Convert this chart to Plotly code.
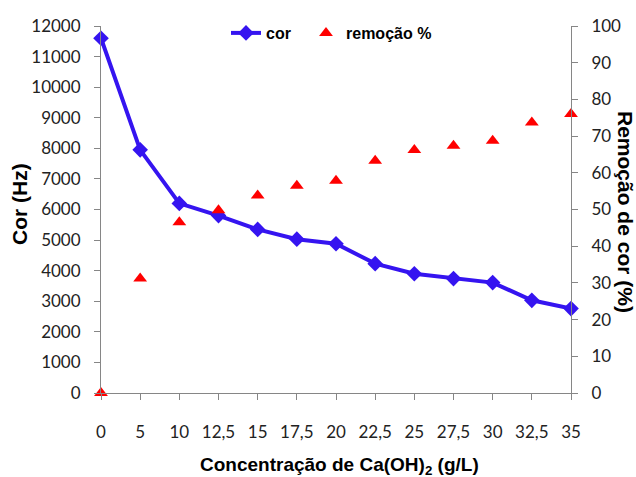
import plotly.graph_objects as go

concentracao = ["0", "5", "10", "12,5", "15", "17,5", "20", "22,5", "25", "27,5", "30", "32,5", "35"]
cor = [11600, 7950, 6200, 5800, 5350, 5030, 4880, 4230, 3900, 3740, 3610, 3030, 2760]
remocao = [0, 31.2, 46.5, 49.8, 53.8, 56.5, 57.8, 63.3, 66.2, 67.4, 68.7, 73.7, 76.0]

W, H = 636, 477
L, R, T, B = 101, 65, 26, 84
pw, ph = W - L - R, H - T - B

def px(x):
    return (x - L) / pw

def py(y):
    return (H - B - y) / ph

axis_gray = "#868686"
tick_font = dict(family="Lato, Open Sans, sans-serif", size=17, color="#222222")
legend_font = dict(family="Liberation Sans, Arial, sans-serif", size=16, color="black", weight="bold")

fig = go.Figure()
fig.add_trace(go.Scatter(
    x=concentracao, y=cor, name="cor", mode="lines+markers",
    line=dict(color="#3514F0", width=4),
    marker=dict(symbol="diamond", size=12, color="#3514F0"),
    cliponaxis=False, legend="legend",
))
fig.add_trace(go.Scatter(
    x=concentracao, y=remocao, name="remoção %", mode="markers", yaxis="y2",
    marker=dict(symbol="triangle-up", size=12, color="#FF0000"),
    cliponaxis=False, legend="legend2",
))

fig.update_layout(
    width=W, height=H,
    margin=dict(l=L, r=R, t=T, b=B),
    paper_bgcolor="white", plot_bgcolor="white",
    showlegend=True,
    legend=dict(
        orientation="h", x=px(226), y=py(33), xanchor="left", yanchor="middle",
        font=legend_font, bgcolor="rgba(0,0,0,0)",
    ),
    legend2=dict(
        orientation="h", x=px(306), y=py(33), xanchor="left", yanchor="middle",
        font=legend_font, bgcolor="rgba(0,0,0,0)",
    ),
    xaxis=dict(
        type="category", range=[0, len(concentracao) - 1],
        showline=True, linecolor=axis_gray, linewidth=1,
        ticks="outside", ticklen=6, tickcolor=axis_gray,
        showgrid=False, zeroline=False,
        tickfont=tick_font, ticklabelstandoff=18,
    ),
    yaxis=dict(
        range=[0, 12000], dtick=1000, tickformat="d",
        showline=True, linecolor=axis_gray, linewidth=1,
        ticks="outside", ticklen=6, tickcolor=axis_gray,
        showgrid=False, zeroline=False,
        tickfont=tick_font, ticklabelstandoff=10,
    ),
    yaxis2=dict(
        range=[0, 100], dtick=10, overlaying="y", side="right",
        showline=True, linecolor=axis_gray, linewidth=1,
        ticks="outside", ticklen=6, tickcolor=axis_gray,
        showgrid=False, zeroline=False,
        tickfont=tick_font, ticklabelstandoff=10,
    ),
)

fig.add_annotation(text="Cor (Hz)", xref="paper", yref="paper", x=px(20), y=py(204),
                   xanchor="center", yanchor="middle", textangle=-90, showarrow=False,
                   font=dict(family="Liberation Sans, Arial, sans-serif", size=21, color="black", weight="bold"))
fig.add_annotation(text="Remoção de cor (%)", xref="paper", yref="paper", x=px(625), y=py(212),
                   xanchor="center", yanchor="middle", textangle=90, showarrow=False,
                   font=dict(family="Liberation Sans, Arial, sans-serif", size=21, color="black", weight="bold"))
fig.add_annotation(text="Concentração de Ca(OH)<sub>2</sub> (g/L)", xref="paper", yref="paper",
                   x=px(339), y=py(466), xanchor="center", yanchor="middle", showarrow=False,
                   font=dict(family="Liberation Sans, Arial, sans-serif", size=19, color="black", weight="bold"))

fig.write_html("out.html")
